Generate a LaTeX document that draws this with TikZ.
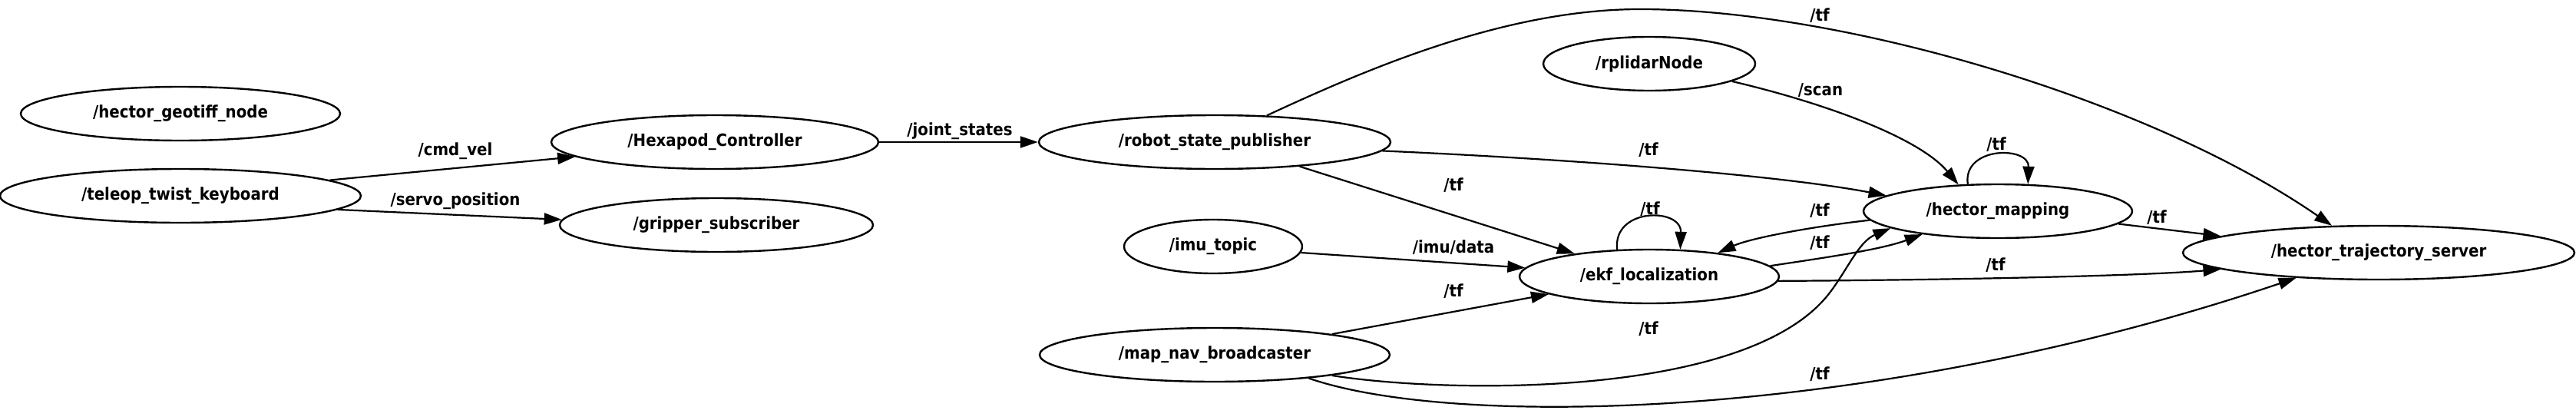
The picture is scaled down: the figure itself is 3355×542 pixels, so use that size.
\documentclass[tikz,border=0pt]{standalone}
\usepackage{fontspec}
\newfontfamily\gvfont[FakeStretch=0.9]{DejaVu Sans}
\usetikzlibrary{shapes.geometric,arrows.meta}
\begin{document}
\begin{tikzpicture}[x=0.5pt,y=-0.5pt,
  gv/.style={font=\gvfont\bfseries\fontsize{11pt}{13pt}\selectfont},
  ros/.style={gv, draw, ellipse, line width=1.2pt, minimum height=35pt, inner sep=0pt},
  edge/.style={line width=1.1pt, -{Triangle[length=11.5pt,width=7.5pt]}},
  lab/.style={gv, inner sep=0pt}]
\useasboundingbox (0,0) rectangle (3355,542);
% nodes
\node[ros, minimum width=208pt] (geo) at (235,148) {/hector\_geotiff\_node};
\node[ros, minimum width=235pt] (tel) at (235,255) {/teleop\_twist\_keyboard};
\node[ros, minimum width=213pt] (hex) at (931,185) {/Hexapod\_Controller};
\node[ros, minimum width=204pt] (grip) at (933,293) {/gripper\_subscriber};
\node[ros, minimum width=229pt] (rsp) at (1582,185) {/robot\_state\_publisher};
\node[ros, minimum width=138pt] (lidar) at (2148,83) {/rplidarNode};
\node[ros, minimum width=116pt] (imu) at (1580,321) {/imu\_topic};
\node[ros, minimum width=169pt] (ekf) at (2148,360) {/ekf\_localization};
\node[ros, minimum width=228pt] (mapnav) at (1582,462) {/map\_nav\_broadcaster};
\node[ros, minimum width=175pt] (hm) at (2602,275) {/hector\_mapping};
\node[ros, minimum width=255pt] (hts) at (3098,329) {/hector\_trajectory\_server};
% edges
\draw[edge] (tel.6) -- (hex.186);
\draw[edge] (tel.-5) -- (grip.178);
\draw[edge] (hex.east) -- (rsp.west);
\draw[edge] (rsp.27) .. controls (1780,90) and (1960,12) .. (2136,12)
   .. controls (2400,12) and (2800,130) .. (hts.150);
\draw[edge] (lidar.-12) .. controls (2380,135) and (2500,180) .. (hm.146);
\draw[edge] (rsp.-3) .. controls (2000,205) and (2300,225) .. (hm.172);
\draw[edge] (rsp.-16) -- (ekf.163);
\draw[edge] (imu.-4) -- (ekf.176);
\draw[edge] (mapnav.10) -- (ekf.190);
\draw[edge] (ekf.140) .. controls (2100,270) and (2190,270) .. (ekf.41);
\draw[edge] (hm.138) .. controls (2556,190) and (2643,190) .. (hm.42);
\draw[edge] (hm.184) .. controls (2360,295) and (2280,310) .. (ekf.19);
\draw[edge] (ekf.5) .. controls (2380,335) and (2450,325) .. (hm.197);
\draw[edge] (ekf.-2) .. controls (2500,365) and (2780,360) .. (hts.186);
\draw[edge] (hm.-6) -- (hts.174);
\draw[edge] (mapnav.-10) .. controls (1880,512) and (2270,520) .. (2380,385)
   .. controls (2405,354) and (2420,315) .. (hm.189);
\draw[edge] (mapnav.-14) .. controls (1900,560) and (2450,545) .. (hts.197);
% labels
\node[lab] (l1) at (593,197) {/cmd\_vel};
\node[lab] (l2) at (593,262) {/servo\_position};
\node[lab] (l3) at (1250,171) {/joint\_states};
\node[lab] (l4) at (2370,20) {/tf};
\node[lab] (l5) at (2371,117) {/scan};
\node[lab] (l6) at (2147,195) {/tf};
\node[lab] (l7) at (1893,241) {/tf};
\node[lab] (l8) at (2149,272) {/tf};
\node[lab] (l9) at (1893,322) {/imu/data};
\node[lab] (l10) at (1893,379) {/tf};
\node[lab] (l11) at (2147,428) {/tf};
\node[lab] (l12) at (2370,487) {/tf};
\node[lab] (l13) at (2370,274) {/tf};
\node[lab] (l14) at (2370,316) {/tf};
\node[lab] (l15) at (2600,188) {/tf};
\node[lab] (l16) at (2809,283) {/tf};
\node[lab] (l17) at (2599,345) {/tf};
\end{tikzpicture}
\end{document}
